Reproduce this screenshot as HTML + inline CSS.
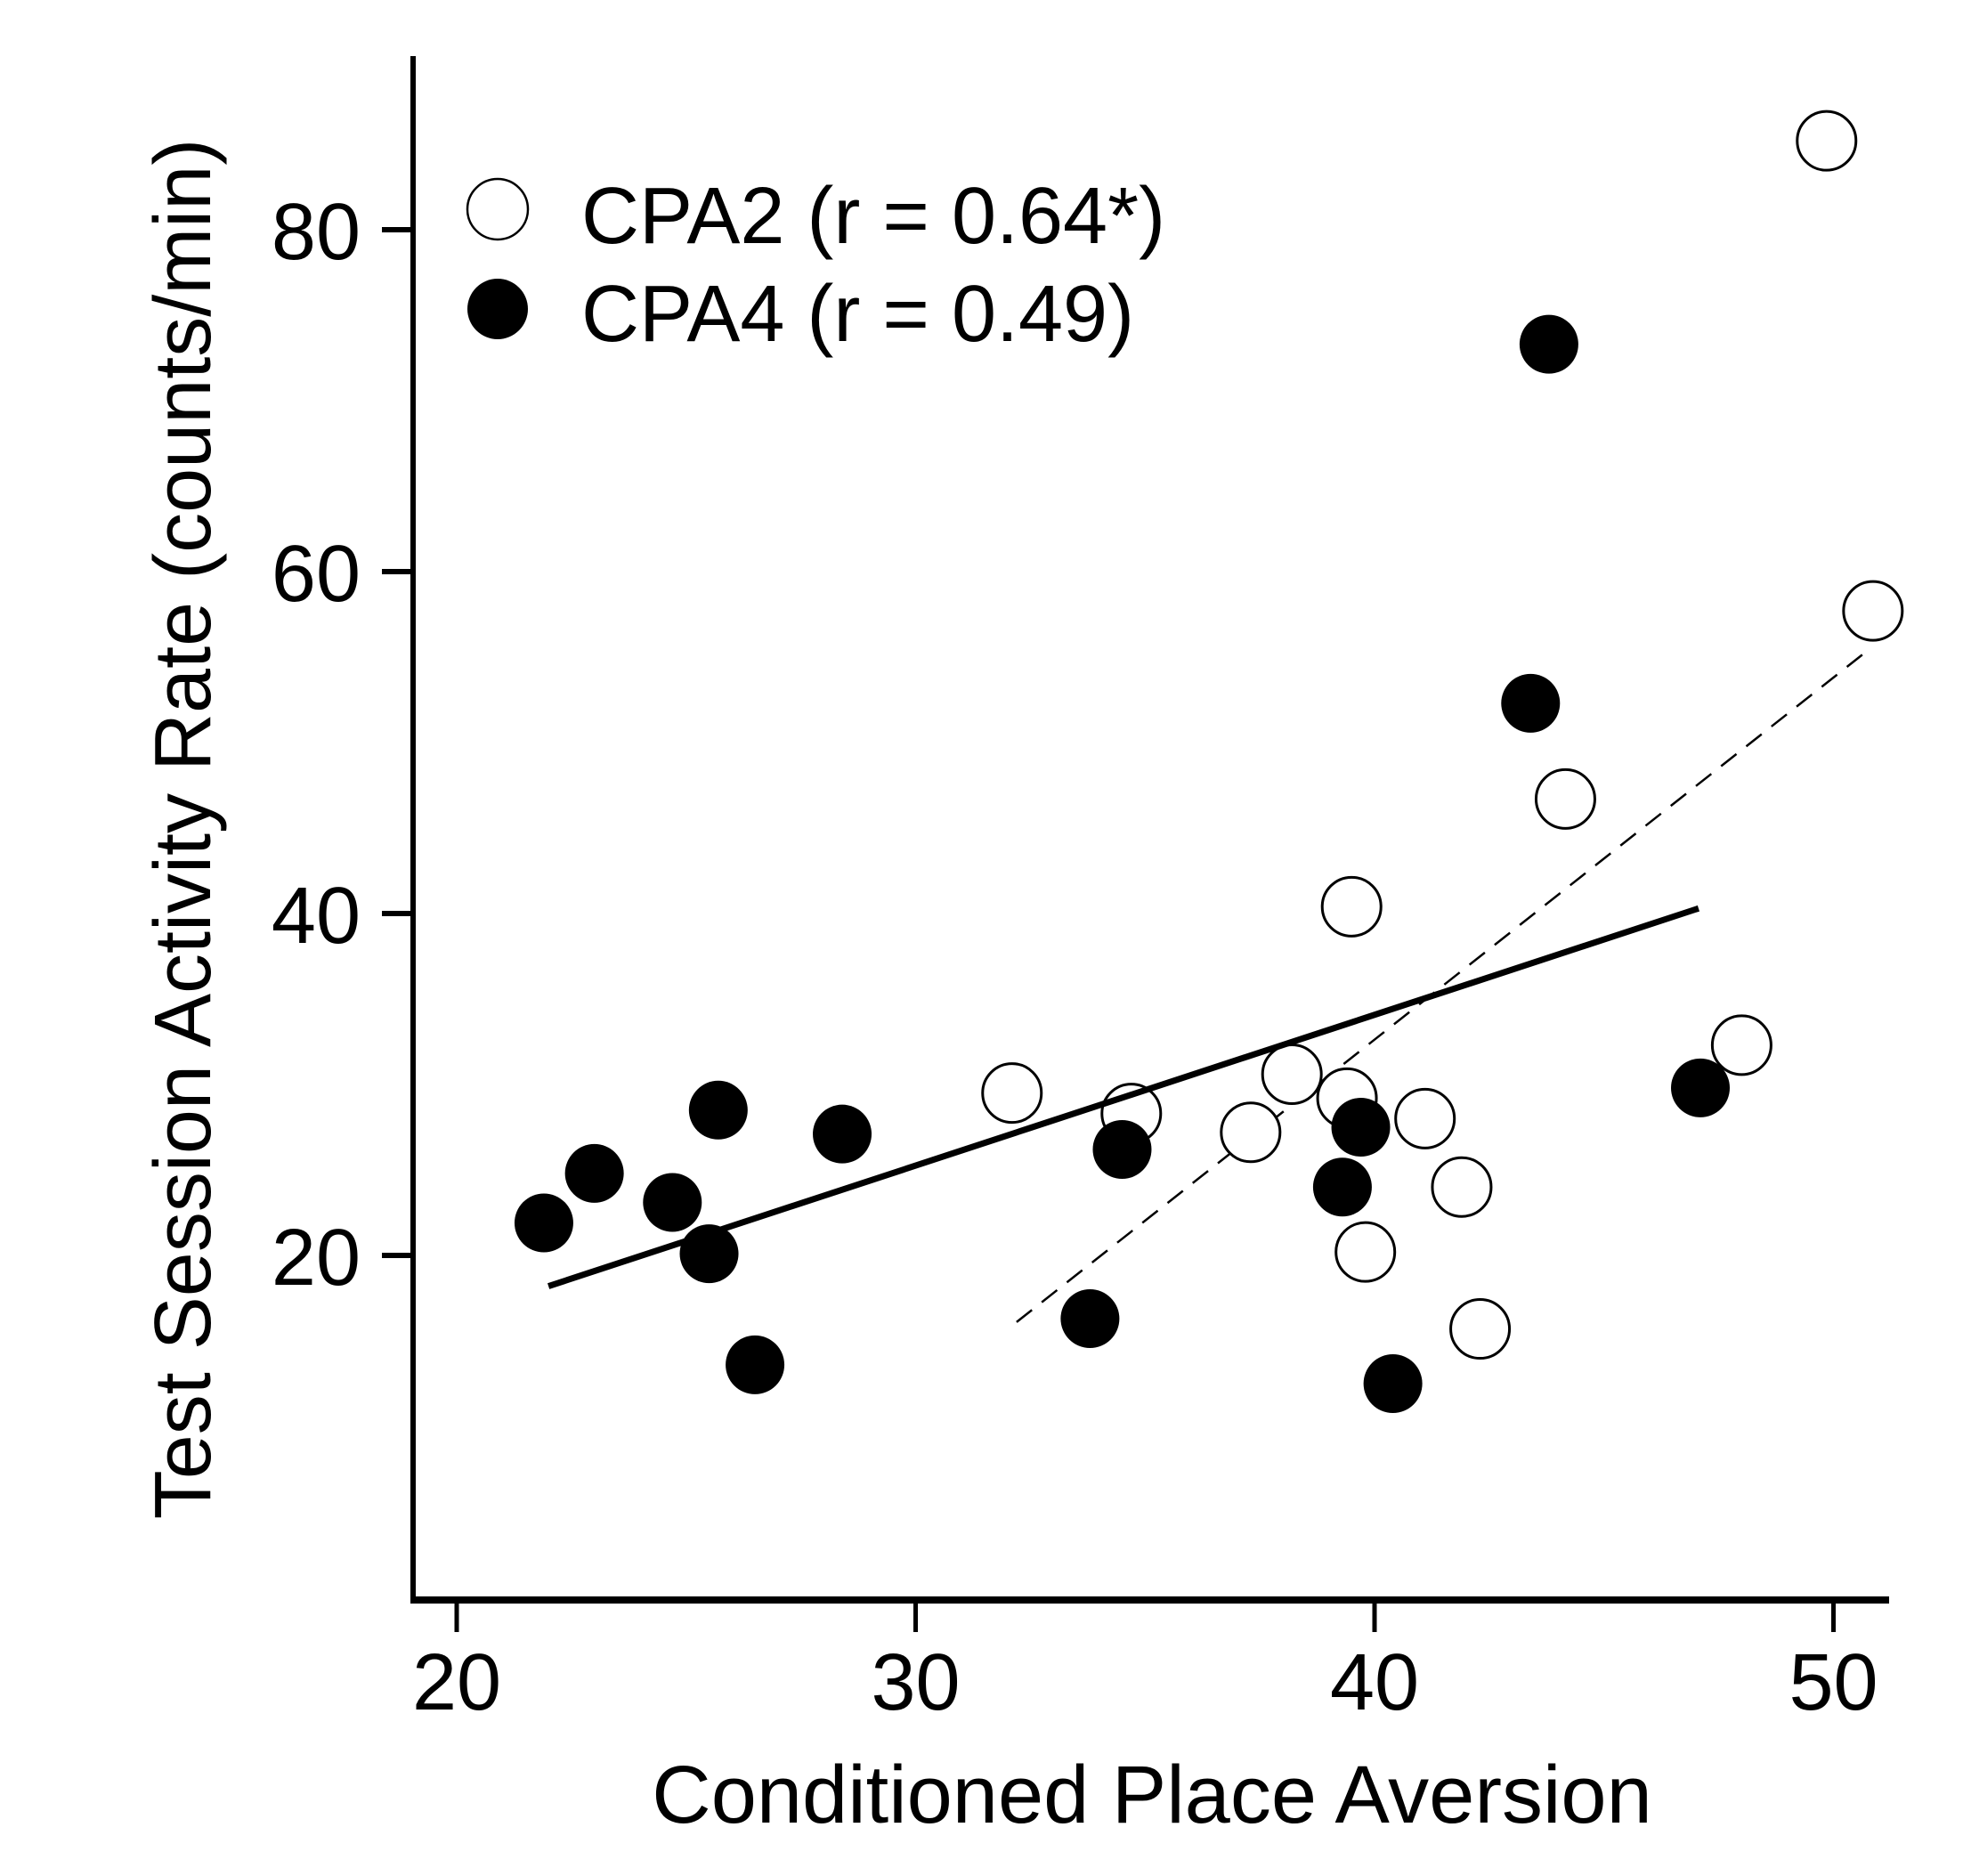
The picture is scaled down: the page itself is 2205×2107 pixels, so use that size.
<!DOCTYPE html>
<html><head><meta charset="utf-8"><style>
html,body{margin:0;padding:0;background:#fff;}
svg{display:block;font-family:"Liberation Sans",Arial,sans-serif;}
</style></head><body>
<svg id="chart" width="2205" height="2107" viewBox="0 0 2205 2107" xmlns="http://www.w3.org/2000/svg"></svg>
<script>
const xTicks=[20,30,40,50];
const yTicks=[20,40,60,80];
const cpa2X=[49.85,50.86,44.16,39.5,48.0,32.1,34.7,38.2,39.4,37.3,41.1,41.9,39.8,42.3];
const cpa2Y=[85.2,57.7,46.7,40.4,32.3,29.5,28.3,30.6,29.2,27.2,28.0,24.0,20.2,15.7];
const cpa4X=[43.8,43.4,47.1,28.4,25.7,23.0,21.9,24.7,25.5,26.5,34.5,33.8,39.7,39.3,40.4];
const cpa4Y=[73.3,52.3,29.8,27.1,28.5,24.8,21.9,23.1,20.1,13.6,26.2,16.3,27.5,24.0,12.5];
const fitCpa4X=[22.0,47.06];
const fitCpa4Y=[18.2,40.3];
const fitCpa2X=[32.2,50.8];
const fitCpa2Y=[16.1,55.5];

const NS='http://www.w3.org/2000/svg';
const svg=document.getElementById('chart');
const X0=513,PXX=51.55,Y0=1794,PXY=19.2;
function sx(v){return X0+(v-20)*PXX;}
function sy(v){return Y0-v*PXY;}
function mk(tag,attrs,parent){const e=document.createElementNS(NS,tag);for(const k in attrs)e.setAttribute(k,attrs[k]);(parent||svg).appendChild(e);return e;}

let e;
e=mk('line',{x1:464,y1:63,x2:464,y2:1800,stroke:'#000','stroke-width':6});


e=mk('line',{x1:461,y1:1797,x2:2122,y2:1797,stroke:'#000','stroke-width':8});



xTicks.forEach(t=>{
  let l=mk('line',{x1:sx(t),y1:1797,x2:sx(t),y2:1833,stroke:'#000','stroke-width':5});
  
  
  let tx=mk('text',{x:sx(t),y:1920,'font-size':90,'text-anchor':'middle'});
  tx.textContent=t;
  
  
});
yTicks.forEach(t=>{
  let l=mk('line',{x1:429,y1:sy(t),x2:464,y2:sy(t),stroke:'#000','stroke-width':6});
  
  
  let tx=mk('text',{x:405,y:sy(t)+33,'font-size':90,'text-anchor':'end'});
  tx.textContent=t;
  
  
});

e=mk('text',{x:1294,y:2047,'font-size':92,'text-anchor':'middle'});
e.textContent='Conditioned Place Aversion';


e=mk('text',{x:0,y:0,'font-size':90,'text-anchor':'middle',transform:'translate(236,931) rotate(-90)'});
e.textContent='Test Session Activity Rate (counts/min)';



e=mk('line',{x1:sx(fitCpa2X[0]),y1:sy(fitCpa2Y[0]),x2:sx(fitCpa2X[1]),y2:sy(fitCpa2Y[1]),stroke:'#000','stroke-width':2.5,'stroke-dasharray':'22,14'});



cpa2X.forEach((v,i)=>{
  let c=mk('circle',{cx:sx(v),cy:sy(cpa2Y[i]),r:33,fill:'#fff',stroke:'#000','stroke-width':3});
  
  
});
e=mk('line',{x1:sx(fitCpa4X[0]),y1:sy(fitCpa4Y[0]),x2:sx(fitCpa4X[1]),y2:sy(fitCpa4Y[1]),stroke:'#000','stroke-width':7});


cpa4X.forEach((v,i)=>{
  let c=mk('circle',{cx:sx(v),cy:sy(cpa4Y[i]),r:33,fill:'#000'});
  
  
});

const g=mk('g',{});


e=mk('circle',{cx:559,cy:235,r:34,fill:'#fff',stroke:'#000','stroke-width':2.5},g);


e=mk('text',{x:653,y:273,'font-size':90},g);
e.textContent='CPA2 (r = 0.64*)';


e=mk('circle',{cx:559,cy:347,r:34,fill:'#000'},g);


e=mk('text',{x:653,y:383,'font-size':90},g);
e.textContent='CPA4 (r = 0.49)';


</script>
</body></html>
